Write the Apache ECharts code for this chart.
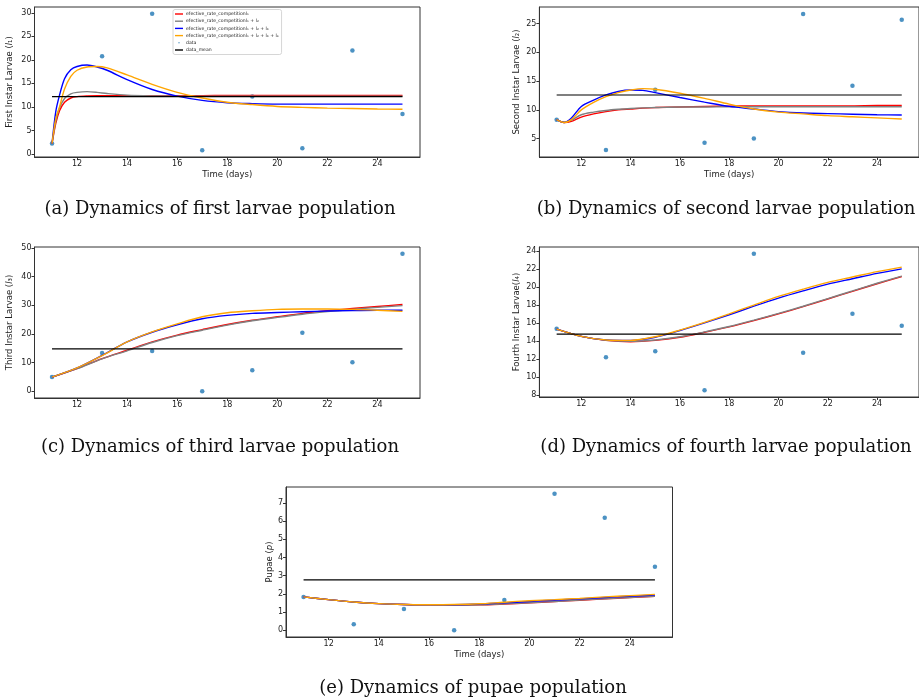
<!DOCTYPE html>
<html>
<head>
<meta charset="utf-8">
<script src="https://cdn.jsdelivr.net/npm/echarts@6/dist/echarts.min.js"></script>
<style>
  body { margin: 0; background: #fff; }
  #chart { width: 919px; height: 698px; }
</style>
</head>
<body>
<div id="chart"></div>
<script>
// observed days
var days = [11, 13, 15, 17, 19, 21, 23, 25];

// (a) first larvae
var dataA = [2.2, 20.8, 29.8, 0.8, 12.2, 1.2, 22.0, 8.5];
var timeA = [11, 11.15, 11.3, 11.5, 11.75, 12, 12.4, 12.8, 13.2, 14, 15, 16, 17, 18, 19, 20, 21, 22, 23, 24, 25];
var redA = [2.2, 6.5, 9.2, 11.0, 11.9, 12.2, 12.35, 12.4, 12.4, 12.4, 12.4, 12.4, 12.4, 12.45, 12.45, 12.45, 12.45, 12.45, 12.45, 12.45, 12.45];
var grayA = [2.2, 7.0, 9.8, 11.8, 12.8, 13.1, 13.25, 13.1, 12.85, 12.5, 12.35, 12.3, 12.3, 12.3, 12.3, 12.3, 12.3, 12.3, 12.3, 12.3, 12.3];
var blueA = [2.2, 9.0, 12.5, 16.0, 17.9, 18.6, 18.9, 18.5, 17.8, 15.8, 13.7, 12.3, 11.4, 10.9, 10.7, 10.6, 10.6, 10.6, 10.6, 10.6, 10.6];
var orangeA = [2.2, 7.5, 10.0, 13.8, 16.5, 17.8, 18.5, 18.6, 18.3, 16.8, 14.8, 13.1, 11.9, 11.0, 10.5, 10.1, 9.9, 9.75, 9.65, 9.55, 9.5];

// (b) second larvae
var dataB = [8.3, 3.0, 13.5, 4.3, 5.0, 26.7, 14.2, 25.7];
var timeB = [11, 11.3, 11.6, 12, 12.5, 13, 13.5, 14, 14.5, 15, 16, 17, 18, 19, 20, 21, 22, 23, 24, 25];
var redB = [8.3, 7.8, 8.0, 8.75, 9.3, 9.7, 10.0, 10.15, 10.3, 10.4, 10.5, 10.6, 10.65, 10.7, 10.7, 10.7, 10.7, 10.7, 10.75, 10.75];
var grayB = [8.3, 7.85, 8.2, 9.15, 9.6, 9.9, 10.1, 10.25, 10.35, 10.4, 10.5, 10.5, 10.55, 10.55, 10.55, 10.55, 10.55, 10.55, 10.55, 10.55];
var blueB = [8.3, 7.8, 8.6, 10.6, 11.7, 12.6, 13.2, 13.45, 13.4, 13.0, 12.15, 11.35, 10.6, 10.15, 9.7, 9.45, 9.35, 9.25, 9.15, 9.1];
var orangeB = [8.3, 7.8, 8.3, 10.0, 11.3, 12.3, 13.0, 13.45, 13.7, 13.6, 12.9, 12.0, 11.0, 10.15, 9.6, 9.3, 9.0, 8.8, 8.6, 8.4];

// (c), (d), (e) share a daily time grid
var timeDaily = [11, 12, 13, 14, 15, 16, 17, 18, 19, 20, 21, 22, 23, 24, 25];

var dataC = [4.9, 13.3, 14.0, 0.0, 7.3, 20.4, 10.1, 48.0];
var redC = [4.9, 7.9, 11.4, 14.3, 17.2, 19.6, 21.5, 23.3, 24.8, 26.0, 27.2, 28.1, 28.9, 29.6, 30.3];
var grayC = [4.9, 7.85, 11.3, 14.1, 17.0, 19.4, 21.3, 23.1, 24.6, 25.8, 26.9, 27.8, 28.6, 29.3, 29.9];
var blueC = [4.9, 8.1, 12.5, 17.2, 20.6, 23.2, 25.3, 26.5, 27.2, 27.5, 27.75, 28.0, 28.2, 28.3, 28.3];
var orangeC = [4.9, 8.1, 12.4, 17.2, 20.7, 23.5, 26.0, 27.4, 28.1, 28.6, 28.7, 28.7, 28.6, 28.3, 27.9];

var dataD = [15.35, 12.17, 12.84, 8.52, 23.67, 12.69, 17.0, 15.68];
var redD = [15.3, 14.5, 14.05, 13.9, 14.05, 14.4, 14.95, 15.55, 16.25, 17.0, 17.8, 18.65, 19.5, 20.35, 21.15];
var grayD = [15.3, 14.5, 14.07, 13.95, 14.1, 14.45, 15.0, 15.6, 16.3, 17.05, 17.85, 18.7, 19.55, 20.4, 21.2];
var blueD = [15.3, 14.5, 14.1, 14.05, 14.4, 15.15, 16.0, 16.9, 17.85, 18.75, 19.55, 20.3, 20.9, 21.5, 22.0];
var orangeD = [15.3, 14.5, 14.1, 14.05, 14.45, 15.2, 16.05, 17.0, 17.98, 18.94, 19.75, 20.5, 21.1, 21.7, 22.2];

var dataE = [1.83, 0.33, 1.17, 0.0, 1.66, 7.5, 6.18, 3.49];
var redE = [1.83, 1.68, 1.55, 1.46, 1.41, 1.39, 1.38, 1.39, 1.44, 1.50, 1.57, 1.65, 1.72, 1.79, 1.86];
var grayE = [1.83, 1.68, 1.55, 1.46, 1.41, 1.39, 1.38, 1.40, 1.45, 1.51, 1.58, 1.66, 1.73, 1.80, 1.87];
var blueE = [1.83, 1.68, 1.55, 1.46, 1.41, 1.39, 1.40, 1.44, 1.50, 1.58, 1.65, 1.72, 1.80, 1.87, 1.93];
var orangeE = [1.83, 1.68, 1.55, 1.46, 1.41, 1.40, 1.41, 1.45, 1.54, 1.62, 1.68, 1.75, 1.83, 1.90, 1.97];

// tick labels
var xTicks = [12, 14, 16, 18, 20, 22, 24];
var yTicksA = [0, 5, 10, 15, 20, 25, 30];
var yTicksB = [5, 10, 15, 20, 25];
var yTicksC = [0, 10, 20, 30, 40, 50];
var yTicksD = [8, 10, 12, 14, 16, 18, 20, 22, 24];
var yTicksE = [0, 1, 2, 3, 4, 5, 6, 7];

var names = [
  "efective_rate_competitionl\u2081",
  "efective_rate_competitionl\u2081 + l\u2082",
  "efective_rate_competitionl\u2081 + l\u2082 + l\u2083",
  "efective_rate_competitionl\u2081 + l\u2082 + l\u2083 + l\u2084",
  "data",
  "data_mean"
];
var lineColors = ["#ff0000", "#808080", "#0000ff", "#ffa500"];

var font = "DejaVu Sans";
var txt = "#222";
var axisCol = "#333";

var panels = [
  { grid: { left: 34.5, top: 7, width: 385.5, height: 150 }, y: [-0.65, 31.25], yTicks: yTicksA,
    yName: "First Instar Larvae ({i|l}\u2081)", yGap: 20, xName: "Time (days)",
    time: timeA, curves: [redA, grayA, blueA, orangeA], data: dataA },
  { grid: { left: 539.4, top: 7, width: 386.5, height: 150 }, y: [1.8, 27.9], yTicks: yTicksB,
    yName: "Second Instar Larvae ({i|l}\u2082)", yGap: 18, xName: "Time (days)",
    time: timeB, curves: [redB, grayB, blueB, orangeB], data: dataB },
  { grid: { left: 34.5, top: 247, width: 385.5, height: 151 }, y: [-2.4, 50.4], yTicks: yTicksC,
    yName: "Third Instar Larvae ({i|l}\u2083)", yGap: 20, xName: "",
    time: timeDaily, curves: [redC, grayC, blueC, orangeC], data: dataC },
  { grid: { left: 539.4, top: 247, width: 386.5, height: 150 }, y: [7.76, 24.43], yTicks: yTicksD,
    yName: "Fourth Instar Larvae({i|l}\u2084)", yGap: 18, xName: "",
    time: timeDaily, curves: [redD, grayD, blueD, orangeD], data: dataD },
  { grid: { left: 286, top: 487, width: 386.5, height: 150 }, y: [-0.375, 7.875], yTicks: yTicksE,
    yName: "Pupae ({i|p})", yGap: 12, xName: "Time (days)",
    time: timeDaily, curves: [redE, grayE, blueE, orangeE], data: dataE }
];

var grids = [], xAxes = [], yAxes = [], series = [];

panels.forEach(function (p, k) {
  grids.push(Object.assign({ show: true, borderColor: axisCol, borderWidth: 1, backgroundColor: "transparent" }, p.grid));
  xAxes.push({
    type: "value", gridIndex: k, min: 10.3, max: 25.7,
    name: p.xName, nameLocation: "middle", nameGap: 13,
    nameTextStyle: { fontFamily: font, fontSize: 8.5, color: txt },
    axisLine: { show: true, onZero: false, lineStyle: { color: axisCol, width: 1 } },
    axisTick: { show: true, length: 3, lineStyle: { color: axisCol }, customValues: xTicks },
    axisLabel: { fontFamily: font, fontSize: 8, color: txt, margin: 3, customValues: xTicks },
    splitLine: { show: false }
  });
  yAxes.push({
    type: "value", gridIndex: k, min: p.y[0], max: p.y[1],
    name: p.yName, nameLocation: "middle", nameGap: p.yGap,
    nameTextStyle: { fontFamily: font, fontSize: 8.5, color: txt, rich: { i: { fontFamily: font, fontSize: 8.5, fontStyle: "italic", color: txt } } },
    axisLine: { show: true, onZero: false, lineStyle: { color: axisCol, width: 1 } },
    axisTick: { show: true, length: 3, lineStyle: { color: axisCol }, customValues: p.yTicks },
    axisLabel: { fontFamily: font, fontSize: 8, color: txt, margin: 3, customValues: p.yTicks },
    splitLine: { show: false }
  });

  p.curves.forEach(function (vals, j) {
    series.push({
      name: names[j], type: "line", xAxisIndex: k, yAxisIndex: k,
      data: p.time.map(function (t, i) { return [t, vals[i]]; }),
      smooth: 0.3, showSymbol: false, symbol: "none",
      lineStyle: { color: lineColors[j], width: 1.4 },
      itemStyle: { color: lineColors[j] },
      silent: true, animation: false
    });
  });

  series.push({
    name: names[4], type: "scatter", xAxisIndex: k, yAxisIndex: k,
    data: days.map(function (d, i) { return [d, p.data[i]]; }),
    symbolSize: 4.5, itemStyle: { color: "#1f77b4" }, silent: true, animation: false
  });

  var mean = p.data.reduce(function (a, b) { return a + b; }, 0) / p.data.length;
  series.push({
    name: names[5], type: "line", xAxisIndex: k, yAxisIndex: k,
    data: [[days[0], mean], [days[days.length - 1], mean]],
    showSymbol: false, symbol: "none",
    lineStyle: { color: "#000", width: 1.2 }, itemStyle: { color: "#000" },
    silent: true, animation: false
  });
});

var captionFont = "DejaVu Serif";
function caption(text, x, y) {
  return {
    type: "text", x: x, y: y,
    style: { text: text, font: "18px '" + captionFont + "'", fill: "#111", align: "center", verticalAlign: "middle" }
  };
}

var myChart = echarts.init(document.getElementById("chart"));
var option = {
  animation: false,
  grid: grids,
  xAxis: xAxes,
  yAxis: yAxes,
  series: series,
  legend: {
    data: [
      { name: names[0], icon: "rect" },
      { name: names[1], icon: "rect" },
      { name: names[2], icon: "rect" },
      { name: names[3], icon: "rect" },
      { name: names[4], icon: "circle" },
      { name: names[5], icon: "rect" }
    ],
    orient: "vertical", left: 173, top: 9.5,
    itemWidth: 8, itemHeight: 1.4, itemGap: 2.2,
    padding: [2, 3, 2, 2],
    borderColor: "#ccc", borderWidth: 0.8, borderRadius: 2,
    backgroundColor: "#fff",
    selectedMode: false,
    textStyle: { fontFamily: font, fontSize: 4.6, color: txt, padding: [0, 0, 0, -2], lineHeight: 5 }
  },
  graphic: [
    caption("(a) Dynamics of first larvae population", 220, 209),
    caption("(b) Dynamics of second larvae population", 726, 209),
    caption("(c) Dynamics of third larvae population", 220, 447),
    caption("(d) Dynamics of fourth larvae population", 726, 447),
    caption("(e) Dynamics of pupae population", 473, 688)
  ]
};
option && myChart.setOption(option);
</script>
</body>
</html>
